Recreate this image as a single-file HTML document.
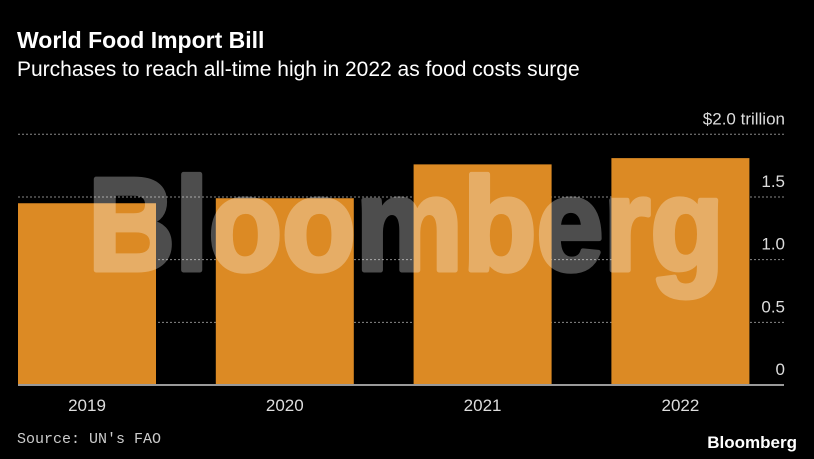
<!DOCTYPE html>
<html><head><meta charset="utf-8"><style>
html,body{margin:0;padding:0;background:#000;}
svg{display:block;font-family:"Liberation Sans",sans-serif;}
</style></head><body>
<svg width="814" height="459" viewBox="0 0 814 459">
<rect width="814" height="459" fill="#000"/>
<text x="17" y="48" fill="#fff" font-size="23" font-weight="bold">World Food Import Bill</text>
<text x="17" y="76" fill="#fff" font-size="21">Purchases to reach all-time high in 2022 as food costs surge</text>
<g id="grid"></g>
<g id="bars"></g>
<line x1="18" x2="784" y1="385" y2="385" stroke="#999" stroke-width="2"/>
<g id="labels"></g>
<g opacity="0.3">
<text x="406" y="270" text-anchor="middle" font-size="132" font-weight="bold" fill="#fff" stroke="#fff" stroke-width="5" stroke-linejoin="round" textLength="636" lengthAdjust="spacingAndGlyphs">Bloomberg</text>
</g>
<text x="17" y="443" fill="#ccc" font-size="15" font-family="Liberation Mono, monospace">Source: UN's FAO</text>
<text x="797" y="448" fill="#fff" text-anchor="end" font-size="17" font-weight="bold">Bloomberg</text>
</svg>
<script>
const categories=["2019","2020","2021","2022"];
const values=[1.45,1.49,1.76,1.81];
const ticks=[0,0.5,1.0,1.5,2.0];
const tickLabels=["0","0.5","1.0","1.5","$2.0 trillion"];
const NS="http://www.w3.org/2000/svg";
const y0=385,yTop=134.3,vMax=2;
function y(v){return y0-(v/vMax)*(y0-yTop);}
const bandStart=18,band=197.8,barW=138;
function x(i){return bandStart+i*band;}
const grid=document.getElementById('grid'),bars=document.getElementById('bars'),labels=document.getElementById('labels');
ticks.forEach((t,i)=>{
  if(t>0){
    const l=document.createElementNS(NS,'line');
    l.setAttribute('x1',18);l.setAttribute('x2',784);
    l.setAttribute('y1',y(t));l.setAttribute('y2',y(t));
    l.setAttribute('stroke','#888');l.setAttribute('stroke-dasharray','2,2');
    
    
    grid.appendChild(l);
  }
  const tx=document.createElementNS(NS,'text');
  tx.setAttribute('x',785);tx.setAttribute('y',y(t)-10);
  tx.setAttribute('text-anchor','end');tx.setAttribute('fill','#ddd');tx.setAttribute('font-size','17');
  tx.textContent=tickLabels[i];
  
  
  labels.appendChild(tx);
});
categories.forEach((c,i)=>{
  const r=document.createElementNS(NS,'rect');
  r.setAttribute('x',x(i));r.setAttribute('y',y(values[i]));
  r.setAttribute('width',barW);r.setAttribute('height',y0-y(values[i]));
  r.setAttribute('fill','#dc8a24');
  
  
  bars.appendChild(r);
  const tx=document.createElementNS(NS,'text');
  tx.setAttribute('x',x(i)+barW/2);tx.setAttribute('y',411);
  tx.setAttribute('text-anchor','middle');tx.setAttribute('fill','#ddd');tx.setAttribute('font-size','17');
  tx.textContent=c;
  
  
  labels.appendChild(tx);
});
</script>
</body></html>
